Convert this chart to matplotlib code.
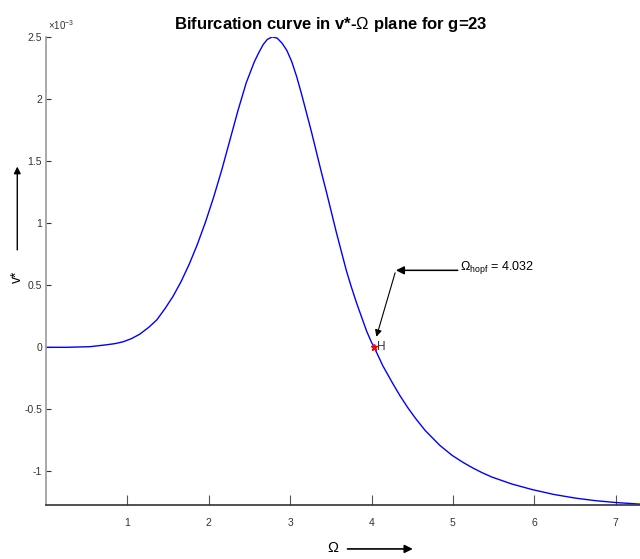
"""
Bifurcation curve v* against Omega, g=23, with the Hopf point marked.
"""

import matplotlib
matplotlib.use("Agg")
import matplotlib.pyplot as plt

plt.rcParams['font.family'] = ['Liberation Sans', 'DejaVu Sans']
plt.rcParams['mathtext.fontset'] = 'custom'
plt.rcParams['mathtext.rm'] = 'Liberation Sans'
plt.rcParams['mathtext.it'] = 'Liberation Sans'

# continuation branch (v* in units of 1e-3)
omega = [0.0, 0.25, 0.54, 0.74, 0.85, 0.95, 1.05, 1.15, 1.26, 1.36, 1.46, 1.56,
         1.66, 1.76, 1.86, 1.96, 2.06, 2.16, 2.26, 2.36, 2.46, 2.56, 2.62, 2.67,
         2.72, 2.78, 2.84, 2.90, 2.96, 3.02, 3.08, 3.14, 3.20, 3.26, 3.32, 3.38,
         3.45, 3.51, 3.57, 3.63, 3.69, 3.75, 3.82, 3.88, 3.94, 4.00, 4.032, 4.09,
         4.14, 4.20, 4.26, 4.35, 4.45, 4.55, 4.66, 4.75, 4.84, 4.99, 5.12, 5.24,
         5.36, 5.48, 5.72, 5.97, 6.24, 6.51, 6.75, 7.0, 7.3]
v_star = [0.0, 0.0, 0.005, 0.02, 0.03, 0.045, 0.07, 0.105, 0.16, 0.22, 0.31, 0.41,
          0.53, 0.67, 0.83, 1.01, 1.21, 1.43, 1.67, 1.91, 2.13, 2.30, 2.38, 2.44,
          2.48, 2.50, 2.49, 2.45, 2.39, 2.30, 2.18, 2.04, 1.89, 1.74, 1.58, 1.42,
          1.24, 1.08, 0.92, 0.77, 0.62, 0.49, 0.35, 0.24, 0.13, 0.04, 0.0, -0.08,
          -0.15, -0.22, -0.29, -0.39, -0.49, -0.58, -0.67, -0.73, -0.79, -0.87, -0.925, -0.97,
          -1.01, -1.045, -1.10, -1.145, -1.185, -1.215, -1.235, -1.25, -1.263]

hopf_omega = 4.032
hopf_v = 0.0

xticks = [1, 2, 3, 4, 5, 6, 7]
yticks = [-1, -0.5, 0, 0.5, 1, 1.5, 2, 2.5]
ytick_labels = ['-1', '-0.5', '0', '0.5', '1', '1.5', '2', '2.5']

fig = plt.figure(figsize=(6.4, 5.59), dpi=100)
ax = fig.add_axes([0.072, 0.0966, 0.928, 0.8374])

ax.plot(omega, v_star, color='#0000ff', lw=1.0, solid_joinstyle='round')
ax.plot(hopf_omega, hopf_v, marker='*', color='red', ms=5, ls='none')
ax.text(hopf_omega + 0.03, hopf_v, 'H', fontsize=8.5, va='center', ha='left', color='#333333')

ax.set_xlim(0, 7.3)
ax.set_ylim(-1.27, 2.5)
ax.set_xticks(xticks)
ax.set_xticklabels([str(t) for t in xticks])
ax.set_yticks(yticks)
ax.set_yticklabels(ytick_labels)

for side in ('top', 'right'):
    ax.spines[side].set_visible(False)
ax.spines['left'].set_color('#999999')
ax.spines['left'].set_linewidth(1.2)
ax.spines['bottom'].set_color('#333333')
ax.spines['bottom'].set_linewidth(1.2)

ax.tick_params(axis='x', direction='in', length=7, width=0.8, color='#555555',
               labelsize=7.5, labelcolor='#333333', pad=9)
ax.tick_params(axis='y', direction='in', length=3.5, width=0.8, color='#333333',
               labelsize=7.5, labelcolor='#333333', pad=3)

# Hopf annotation: horizontal arrow from the label, then down to the point
ax.annotate('', xy=(4.30, 0.62), xytext=(5.06, 0.62),
            arrowprops=dict(arrowstyle='-|>', color='black', lw=1.1,
                            mutation_scale=12, shrinkA=0, shrinkB=0))
ax.annotate('', xy=(4.06, 0.085), xytext=(4.29, 0.60),
            arrowprops=dict(arrowstyle='-|>', color='black', lw=0.8,
                            mutation_scale=10, shrinkA=0, shrinkB=0))
ax.text(5.09, 0.64, r'$\Omega_{hopf}$ = 4.032', fontsize=9, va='center', ha='left')

ax.set_title(r'Bifurcation curve in v*-$\Omega$ plane for g=23',
             fontsize=12, fontweight='bold', x=0.48, y=1.0, pad=6)

# exponent of the y axis
fig.text(0.075, 0.943, r'$\times 10^{-3}$', fontsize=7, color='#333333',
         ha='left', va='bottom')

# axis labels with direction arrows
fig.text(0.027, 0.505, 'v*', rotation=90, fontsize=10, ha='center', va='center')
ax.annotate('', xy=(0.027, 0.702), xytext=(0.027, 0.553), xycoords='figure fraction',
            textcoords='figure fraction',
            arrowprops=dict(arrowstyle='-|>', color='black', lw=1.0,
                            mutation_scale=10, shrinkA=0, shrinkB=0))
fig.text(0.52, 0.019, r'$\Omega$', fontsize=10.5, ha='center', va='center')
ax.annotate('', xy=(0.645, 0.018), xytext=(0.543, 0.018), xycoords='figure fraction',
            textcoords='figure fraction',
            arrowprops=dict(arrowstyle='-|>', color='black', lw=1.2,
                            mutation_scale=12, shrinkA=0, shrinkB=0))

fig.savefig('out.png', dpi=100)
